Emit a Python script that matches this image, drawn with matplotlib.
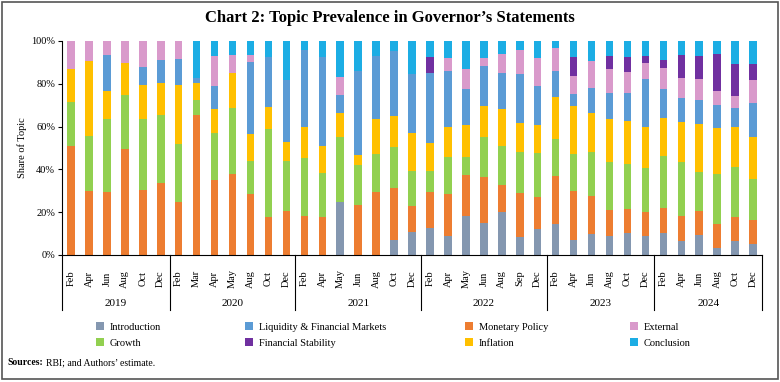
import numpy as np
import matplotlib
matplotlib.use("Agg")
import matplotlib.pyplot as plt
from matplotlib.patches import Rectangle

plt.rcParams['font.family'] = ['Liberation Serif', 'DejaVu Serif']

# months per year (x axis groups)
years = ["2019", "2020", "2021", "2022", "2023", "2024"]
months = [
    ["Feb", "Apr", "Jun", "Aug", "Oct", "Dec"],
    ["Feb", "Mar", "Apr", "May", "Aug", "Oct", "Dec"],
    ["Feb", "Apr", "May", "Jun", "Aug", "Oct", "Dec"],
    ["Feb", "Apr", "May", "Jun", "Aug", "Sep", "Dec"],
    ["Feb", "Apr", "Jun", "Aug", "Oct", "Dec"],
    ["Feb", "Apr", "Jun", "Aug", "Oct", "Dec"],
]

# topic shares (%), in stacking order from the bottom
introduction = [0, 0, 0, 0, 0, 0,
                0, 0, 0, 0, 0, 0, 0,
                0, 0, 24.8, 0, 0, 6.9, 10.7,
                12.6, 8.9, 18.4, 14.8, 20.2, 8.6, 12.0,
                14.3, 7.2, 9.7, 9.0, 10.1, 9.0,
                10.1, 6.5, 9.2, 3.4, 6.5, 5.3]
monetary_policy = [51.0, 30.0, 29.4, 49.5, 30.4, 33.8,
                   24.8, 65.6, 35.2, 38.0, 28.7, 17.9, 20.6,
                   18.4, 17.9, 0, 23.5, 29.4, 24.4, 12.4,
                   16.8, 19.8, 19.1, 21.5, 12.7, 20.4, 15.1,
                   22.8, 22.7, 17.9, 12.0, 11.2, 11.2,
                   11.9, 11.9, 11.4, 10.9, 11.3, 11.2]
growth = [20.7, 25.7, 34.2, 25.3, 33.0, 31.6,
          27.1, 6.8, 22.0, 30.8, 15.1, 41.0, 23.3,
          26.8, 20.3, 30.5, 18.7, 18.0, 19.3, 16.2,
          10.0, 17.1, 8.5, 18.7, 17.9, 19.1, 20.7,
          17.1, 17.3, 20.5, 22.5, 21.2, 20.5,
          24.4, 25.1, 18.3, 23.7, 23.3, 18.9]
inflation = [15.2, 34.9, 12.9, 14.8, 16.2, 14.8,
             27.5, 8.1, 11.0, 16.1, 12.9, 10.3, 9.1,
             14.6, 12.6, 11.2, 4.5, 16.0, 14.5, 17.7,
             12.9, 13.9, 14.9, 14.5, 17.6, 13.4, 12.9,
             19.5, 22.3, 18.4, 20.1, 20.1, 19.0,
             17.6, 18.6, 22.3, 21.2, 18.7, 19.9]
liquidity = [0, 0, 17.0, 0, 8.2, 10.9,
             12.2, 2.4, 10.9, 0, 33.6, 23.5, 28.6,
             36.0, 41.6, 8.3, 39.3, 29.7, 30.2, 27.6,
             32.6, 26.4, 16.7, 18.7, 16.6, 23.1, 18.3,
             12.3, 5.6, 11.5, 11.9, 12.9, 22.5,
             13.6, 11.3, 11.2, 10.9, 9.0, 15.9]
external = [13.1, 9.4, 6.5, 10.4, 12.2, 8.9,
            8.4, 0, 14.0, 8.6, 3.2, 0, 0,
            0, 0, 8.4, 0, 0, 0, 0,
            0, 6.0, 9.2, 3.9, 8.9, 11.2, 13.1,
            10.7, 8.4, 12.8, 11.4, 9.9, 7.4,
            9.6, 9.5, 9.7, 6.5, 5.5, 10.6]
financial_stability = [0, 0, 0, 0, 0, 0,
                       0, 0, 0, 0, 0, 0, 0,
                       0, 0, 0, 0, 0, 0, 0,
                       7.6, 0, 0, 0, 0, 0, 0,
                       0, 9.0, 0, 6.2, 7.1, 3.5,
                       3.9, 10.6, 11.0, 17.5, 15.1, 7.6]
conclusion = [0, 0, 0, 0, 0, 0,
              0, 17.1, 6.9, 6.5, 6.5, 7.3, 18.4,
              4.2, 7.6, 16.8, 14.0, 6.9, 4.7, 15.4,
              7.5, 7.9, 13.2, 7.9, 6.1, 4.2, 7.9,
              3.3, 7.5, 9.2, 6.9, 7.5, 6.9,
              8.9, 6.5, 6.9, 5.9, 10.6, 10.6]

series = [
    ("Introduction", introduction, "#8497B0"),
    ("Monetary Policy", monetary_policy, "#ED7D31"),
    ("Growth", growth, "#92D050"),
    ("Inflation", inflation, "#FFC000"),
    ("Liquidity & Financial Markets", liquidity, "#5B9BD5"),
    ("External", external, "#D99ACB"),
    ("Financial Stability", financial_stability, "#7030A0"),
    ("Conclusion", conclusion, "#1CADE4"),
]

labels = [m for grp in months for m in grp]
x = np.arange(len(labels))

fig = plt.figure(figsize=(7.8, 3.82), dpi=100)
ax = fig.add_axes([0.0795, 0.3325, 0.8975, 0.5602])

bottom = np.zeros(len(labels))
handles = {}
for name, vals, col in series:
    vals = np.array(vals, dtype=float)
    handles[name] = ax.bar(x, vals, bottom=bottom, width=0.42, color=col, label=name)
    bottom += vals

ax.set_xlim(-0.5, len(labels) - 0.5)
ax.set_ylim(0, 100)
ax.set_yticks(np.arange(0, 101, 20))
ax.set_yticklabels([f"{v}%" for v in range(0, 101, 20)], fontsize=7.5)
ax.tick_params(axis='y', length=3, width=0.8, pad=2)
ax.set_ylabel("Share of Topic", fontsize=7.5, labelpad=3)
ax.spines['top'].set_visible(False)
ax.spines['right'].set_visible(False)
ax.spines['left'].set_linewidth(0.8)
ax.spines['bottom'].set_linewidth(0.8)

# month labels, rotated
ax.set_xticks(x)
ax.set_xticklabels(labels, rotation=90, fontsize=7.5, va='center')
ax.tick_params(axis='x', length=0, pad=17)

# year group separators and labels
trans = ax.get_xaxis_transform()
edges = np.cumsum([0] + [len(g) for g in months]) - 0.5
for e in edges:
    ax.plot([e, e], [0, -0.257], transform=trans, color='black', lw=0.8, clip_on=False)
for i, yr in enumerate(years):
    ax.text((edges[i] + edges[i + 1]) / 2, -0.225, yr, transform=trans,
            ha='center', va='center', fontsize=8)

# legend: four columns placed like the original
legend_cols = [["Introduction", "Growth"],
               ["Liquidity & Financial Markets", "Financial Stability"],
               ["Monetary Policy", "Inflation"],
               ["External", "Conclusion"]]
col_x = [96, 245, 465, 630]
for names, px in zip(legend_cols, col_x):
    leg = fig.legend([handles[n] for n in names], names, loc='upper left',
                     bbox_to_anchor=(px / 780, 1 - 322 / 382), frameon=False,
                     fontsize=7.5, handlelength=0.8, handleheight=0.8,
                     handletextpad=0.5, labelspacing=0.65, borderpad=0,
                     borderaxespad=0)

fig.text(0.5, 0.953, "Chart 2: Topic Prevalence in Governor\u2019s Statements",
         ha='center', va='center', fontsize=12, fontweight='bold')
src = fig.text(0.009, 0.05, "Sources:", fontsize=7, va='center', fontweight='bold')
fig.canvas.draw()
bb = src.get_window_extent()
fig.text((bb.x1 + 3) / 780, 0.05, "RBI; and Authors\u2019 estimate.", fontsize=7, va='center')

# outer frame
fig.patches.append(Rectangle((0.003, 0.008), 0.994, 0.986, transform=fig.transFigure,
                             fill=False, edgecolor='#555555', lw=1.2))

fig.savefig("out.png", dpi=100)
